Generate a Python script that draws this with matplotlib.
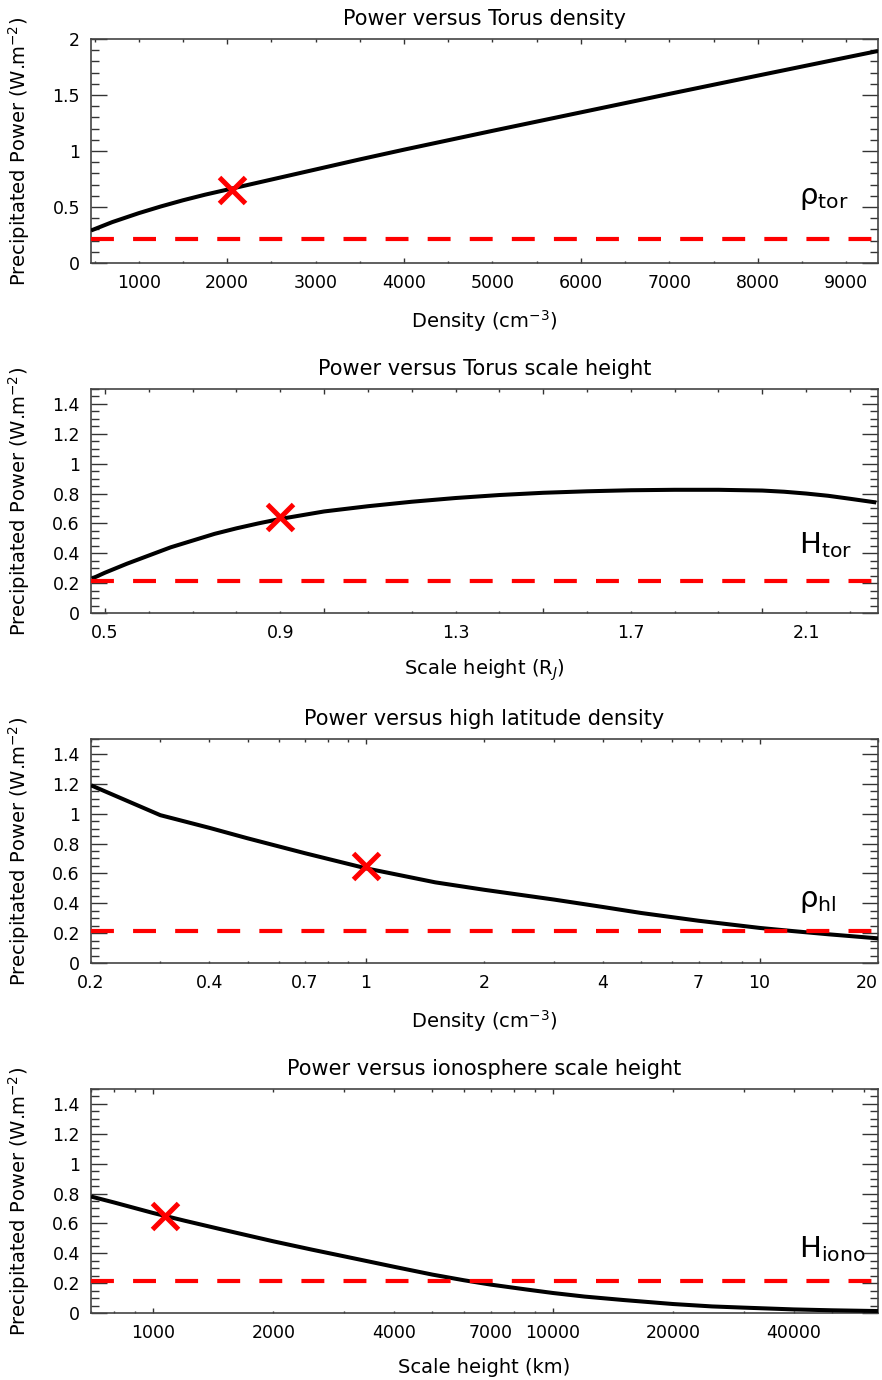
import numpy as np
import matplotlib
matplotlib.use('Agg')
import matplotlib.pyplot as plt
from matplotlib.ticker import (FixedLocator, FuncFormatter, MultipleLocator,
                               LogLocator)

plt.rcParams['font.family'] = ['DejaVu Sans']
plt.rcParams['mathtext.fontset'] = 'dejavusans'

# ---- values ----
# panel 1: power vs torus density (cm^-3)
tor_dens_x = [460, 700, 1000, 1250, 1500, 1750, 2000, 2500, 3000, 3500, 4000,
              5000, 6000, 7000, 8000, 9000, 9360]
tor_dens_y = [0.29, 0.365, 0.445, 0.505, 0.56, 0.61, 0.655, 0.745, 0.835, 0.925, 1.012,
              1.18, 1.345, 1.51, 1.673, 1.835, 1.893]

# panel 2: power vs torus scale height (R_J)
tor_h_x = [0.47, 0.5, 0.55, 0.6, 0.65, 0.7, 0.75, 0.8, 0.85, 0.9, 0.95, 1.0, 1.1, 1.2,
           1.3, 1.4, 1.5, 1.6, 1.7, 1.8, 1.9, 2.0, 2.05, 2.1, 2.15, 2.2, 2.26]
tor_h_y = [0.23, 0.27, 0.33, 0.385, 0.44, 0.485, 0.53, 0.567, 0.6, 0.63, 0.655, 0.68,
           0.715, 0.745, 0.77, 0.79, 0.805, 0.815, 0.822, 0.825, 0.825, 0.82, 0.812,
           0.80, 0.785, 0.765, 0.74]

# panel 3: power vs high latitude density (cm^-3)
hl_dens_x = [0.2, 0.3, 0.4, 0.5, 0.7, 1, 1.5, 2, 3, 4, 5, 7, 10, 12, 15, 20]
hl_dens_y = [1.19, 0.99, 0.905, 0.835, 0.735, 0.634, 0.54, 0.49, 0.425, 0.375, 0.335,
             0.283, 0.235, 0.215, 0.192, 0.165]

# panel 4: power vs ionosphere scale height (km)
iono_h_x = [700, 800, 1000, 1200, 1500, 2000, 2500, 3000, 4000, 5000, 6000, 7000,
            8500, 10000, 12000, 15000, 20000, 25000, 30000, 40000, 50000, 65000]
iono_h_y = [0.78, 0.74, 0.67, 0.618, 0.557, 0.48, 0.424, 0.38, 0.31, 0.257, 0.219,
            0.19, 0.159, 0.134, 0.11, 0.087, 0.06, 0.044, 0.036, 0.024, 0.018, 0.013]

# nominal (reference) points and threshold
ref_x = [2050, 0.9, 1.0, 1070]
ref_y = [0.655, 0.645, 0.65, 0.65]
threshold = 0.215

titles = ['Power versus Torus density', 'Power versus Torus scale height',
          'Power versus high latitude density', 'Power versus ionosphere scale height']
xlabels = ['Density (cm$^{-3}$)', 'Scale height (R$_J$)',
           'Density (cm$^{-3}$)', 'Scale height (km)']
tags = ['ρ$_{\\rm tor}$', 'H$_{\\rm tor}$', 'ρ$_{\\rm hl}$', 'H$_{\\rm iono}$']
xlabel_vals = [[1000, 2000, 3000, 4000, 5000, 6000, 7000, 8000, 9000],
               [0.5, 0.9, 1.3, 1.7, 2.1],
               [0.2, 0.4, 0.7, 1, 2, 4, 7, 10, 20],
               [1000, 2000, 4000, 7000, 10000, 20000, 40000]]
xlims = [(460, 9360), (0.468, 2.264), (0.2, 20), (700, 65000)]
curves = [(tor_dens_x, tor_dens_y), (tor_h_x, tor_h_y),
          (hl_dens_x, hl_dens_y), (iono_h_x, iono_h_y)]


def label_only(vals):
    def fmt(v, pos):
        for t in vals:
            if abs(v - t) < 1e-6 * max(1.0, abs(t)):
                return '%g' % t
        return ''
    return FuncFormatter(fmt)


fig = plt.figure(figsize=(8.82, 13.8), dpi=100)
W, H = 882.0, 1380.0
ax_left, ax_right = 91, 878
ax_h = 224
bottoms = [263, 613, 963, 1313]
tag_y = [0.265, 0.265, 0.25, 0.25]
axes = []

for i in range(4):
    ax = fig.add_axes([ax_left / W, 1 - bottoms[i] / H, (ax_right - ax_left) / W, ax_h / H])
    axes.append(ax)
    x, y = curves[i]
    ax.plot(x, y, color='black', lw=2.9, solid_capstyle='butt',
            solid_joinstyle='round', zorder=3)
    ax.axhline(threshold, color='#ff0000', lw=3, dashes=(5.5, 4.6), zorder=4)
    ax.plot(ref_x[i], ref_y[i], marker='x', color='#ff0000', ms=19, mew=3.6,
            ls='none', zorder=5)

    if i >= 2:
        ax.set_xscale('log')
        ax.xaxis.set_major_locator(LogLocator(base=10, numticks=12))
        ax.xaxis.set_minor_locator(LogLocator(base=10, subs=np.arange(2, 10), numticks=12))
    elif i == 0:
        ax.xaxis.set_major_locator(FixedLocator([2000, 4000, 6000, 8000]))
        ax.xaxis.set_minor_locator(FixedLocator(np.arange(500, 9500, 500)))
    else:
        ax.xaxis.set_major_locator(FixedLocator([0.5, 1.0, 1.5, 2.0]))
        ax.xaxis.set_minor_locator(FixedLocator(np.round(np.arange(0.5, 2.3, 0.1), 2)))
    ax.xaxis.set_major_formatter(label_only(xlabel_vals[i]))
    ax.xaxis.set_minor_formatter(label_only(xlabel_vals[i]))
    ax.set_xlim(*xlims[i])

    if i == 0:
        ax.set_ylim(0, 2)
        ax.yaxis.set_major_locator(MultipleLocator(0.5))
        ax.yaxis.set_minor_locator(MultipleLocator(0.1))
    else:
        ax.set_ylim(0, 1.5)
        ax.yaxis.set_major_locator(FixedLocator([0, 0.2, 0.4, 0.6, 0.8, 1.0, 1.2, 1.4]))
        ax.yaxis.set_minor_locator(FixedLocator(np.round(np.arange(0, 1.51, 0.05), 2)))
    ax.yaxis.set_major_formatter(FuncFormatter(lambda v, p: '%g' % round(v, 2)))

    ax.tick_params(axis='both', which='both', direction='in', top=True, right=True,
                   labelsize=12.5, color='#333333', width=1.0)
    ax.tick_params(axis='y', which='major', length=11.5, pad=8)
    ax.tick_params(axis='y', which='minor', length=5.8)
    ax.tick_params(axis='x', which='major', length=3.4, pad=8)
    ax.tick_params(axis='x', which='minor', length=1.8, pad=8)
    for sp in ax.spines.values():
        sp.set_linewidth(1.2)
        sp.set_color('#444444')

    ax.set_title(titles[i], fontsize=15, pad=10)
    ax.set_xlabel(xlabels[i], fontsize=14)
    ax.xaxis.set_label_coords(0.5, -0.20)
    ax.set_ylabel('Precipitated Power (W.m$^{-2}$)', fontsize=14)
    ax.yaxis.set_label_coords(-0.075, 0.5)
    ax.text(0.899, tag_y[i], tags[i], transform=ax.transAxes, fontsize=21,
            ha='left', va='baseline')

# the last tick label of the density axis sits on the figure edge: right-align it
fig.canvas.draw()
for lab in axes[2].xaxis.get_minorticklabels() + axes[2].xaxis.get_majorticklabels():
    if lab.get_text() == '20':
        lab.set_horizontalalignment('right')

fig.savefig('out.png', dpi=100)
